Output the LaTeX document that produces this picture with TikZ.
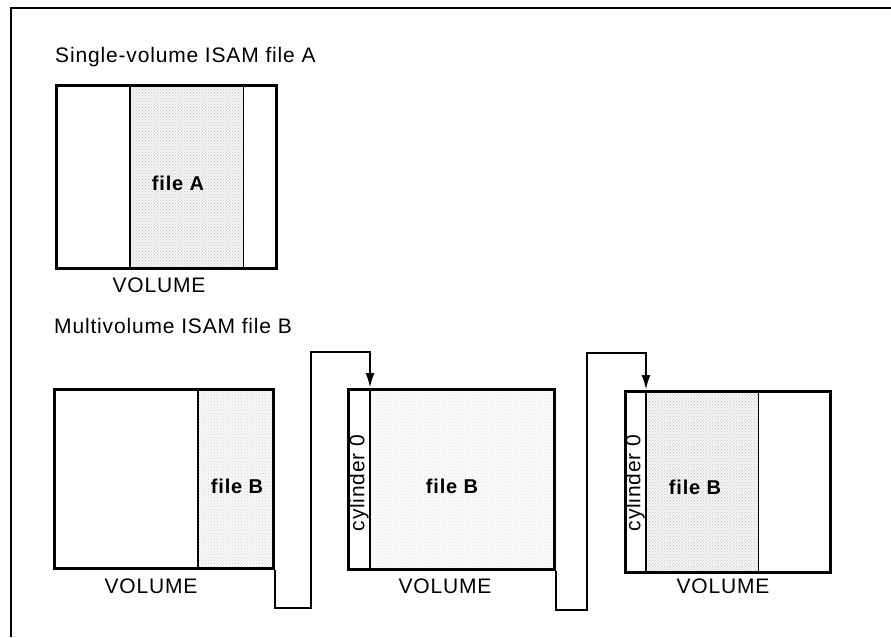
\documentclass[tikz,border=0pt]{standalone}
\usepackage{fontspec}
\setmainfont{Liberation Sans}[LetterSpace=4]
\usetikzlibrary{arrows.meta,patterns}
\begin{document}
\begin{tikzpicture}[x=1pt,y=-1pt,
  txt/.style={inner sep=0pt,font=\fontsize{21}{24}\selectfont},
  lbl/.style={inner sep=0pt,font=\fontsize{20}{24}\selectfont\bfseries},
  vol/.style={draw,line width=2.8pt,inner sep=0pt},
  shade/.style={inner sep=0pt},
  divider/.style={line width=1.2pt},
  link/.style={line width=2.4pt,-{Latex[length=15pt,width=9pt]}}]
\useasboundingbox (0,0) rectangle (891,637);
% frame
\draw[line width=1.6pt] (11,637) -- (11,8) -- (891,8);
% ---- file A
\node[txt,anchor=base west] (t1) at (55,62) {Single-volume ISAM file A};
\node[shade,anchor=north west,minimum width=113pt,minimum height=183pt,fill=gray!9] (sa) at (130,84) {};
\fill[pattern=crosshatch dots,pattern color=gray!45] (sa.north west) rectangle (sa.south east);
\draw[divider] (sa.north west) -- (sa.south west);
\draw[divider] (sa.north east) -- (sa.south east);
\node[vol,anchor=north west,minimum width=220pt,minimum height=183pt] (va) at (55,84) {};
\node[lbl,anchor=base] (fa) at (178,190) {file A};
\node[txt,anchor=base] (la) at (159,292) {VOLUME};
% ---- file B
\node[txt,anchor=base west] (t2) at (54,333) {Multivolume ISAM file B};
% volume 1
\node[shade,anchor=north west,minimum width=74pt,minimum height=179pt,fill=gray!5] (s1) at (198,388) {};
\fill[pattern=crosshatch dots,pattern color=gray!35] (s1.north west) rectangle (s1.south east);
\draw[divider] (s1.north west) -- (s1.south west);
\node[vol,anchor=north west,minimum width=219pt,minimum height=179pt] (v1) at (53,388) {};
\node[lbl,anchor=base] (f1) at (237,493) {file B};
\node[txt,anchor=base] (l1) at (151,593) {VOLUME};
% volume 2
\node[shade,anchor=north west,minimum width=183pt,minimum height=180pt,fill=gray!3] (s2) at (370,388) {};
\fill[pattern=crosshatch dots,pattern color=gray!18] (s2.north west) rectangle (s2.south east);
\draw[divider] (s2.north west) -- (s2.south west);
\node[vol,anchor=north west,minimum width=206pt,minimum height=180pt] (v2) at (347,388) {};
\node[txt,rotate=90,anchor=center] (c2) at (359,483) {cylinder 0};
\node[lbl,anchor=base] (f2) at (452,493) {file B};
\node[txt,anchor=base] (l2) at (445,593) {VOLUME};
% volume 3
\node[shade,anchor=north west,minimum width=112pt,minimum height=181pt,fill=gray!9] (s3) at (646,390) {};
\fill[pattern=crosshatch dots,pattern color=gray!45] (s3.north west) rectangle (s3.south east);
\draw[divider] (s3.north west) -- (s3.south west);
\draw[divider] (s3.north east) -- (s3.south east);
\node[vol,anchor=north west,minimum width=205pt,minimum height=181pt] (v3) at (624,390) {};
\node[txt,rotate=90,anchor=center] (c3) at (635,483) {cylinder 0};
\node[lbl,anchor=base] (f3) at (695,494) {file B};
\node[txt,anchor=base] (l3) at (723,593) {VOLUME};
% connectors
\coordinate (k1) at (311,352);
\coordinate (k2) at (587,353);
\draw[link] (v1.south east) -- ++(0,38) -| (k1) -| (s2.north west);
\draw[link] (v2.south east) -- ++(0,39) -| (k2) -| (s3.north west);
\end{tikzpicture}
\end{document}
